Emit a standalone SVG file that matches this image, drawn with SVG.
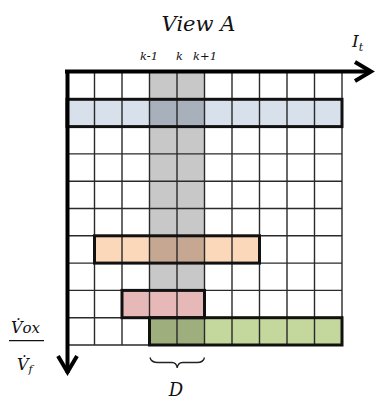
<svg xmlns="http://www.w3.org/2000/svg" width="375" height="402" viewBox="0 0 375 402">
<style>
.t{font-family:'DejaVu Serif','Liberation Serif',serif;font-style:italic;fill:#111}
.g{stroke:#2a2a2a;stroke-width:1.4;fill:none}
.hb{stroke:#111;stroke-width:3;fill:none}
.ax{stroke:#000;stroke-width:4;fill:none;stroke-linecap:butt}
.ah{stroke:#000;stroke-width:4;fill:none;stroke-linejoin:miter}
</style>
<rect width="375" height="402" fill="#fff"/>
<g id="column-k">
<rect x="149.5" y="72" width="55" height="273" fill="#c8c8c8"/>
</g>
<g id="row-blue">
<rect x="67" y="99.3" width="275" height="27.3" fill="#d7e0eb"/>
<rect x="149.5" y="99.3" width="55" height="27.3" fill="#a8b0bc"/>
</g>
<g id="row-orange">
<rect x="94.5" y="235.8" width="165" height="27.3" fill="#fcd8bb"/>
<rect x="149.5" y="235.8" width="55" height="27.3" fill="#c6a892"/>
</g>
<g id="row-pink">
<rect x="122" y="290.4" width="82.5" height="27.3" fill="#e6b8b8"/>
</g>
<g id="row-green">
<rect x="149.5" y="317.7" width="192.5" height="27.3" fill="#c4d79c"/>
<rect x="149.5" y="317.7" width="55" height="27.3" fill="#9eae7d"/>
</g>
<g id="grid">
<path class="g" d="M94.5 72V345M122 72V345M149.5 72V345M177 72V345M204.5 72V345M232 72V345M259.5 72V345M287 72V345M314.5 72V345M342 72V345M67 99.3H342M67 126.6H342M67 153.9H342M67 181.2H342M67 208.5H342M67 235.8H342M67 263.1H342M67 290.4H342M67 317.7H342M67 345H342"/>
</g>
<g id="row-borders">
<rect class="hb" x="67" y="99.3" width="275" height="27.3"/>
<rect class="hb" x="94.5" y="235.8" width="165" height="27.3"/>
<rect class="hb" x="122" y="290.4" width="82.5" height="27.3"/>
<rect class="hb" x="149.5" y="317.7" width="192.5" height="27.3"/>
</g>
<g id="connectors">
<path class="ax" d="M65 71.5H371"/>
<path class="ah" d="M355 62L371 71.5L355 81"/>
<path class="ax" d="M67.5 70V373"/>
<path class="ah" d="M58 356L67.5 372L77 356"/>
<path d="M150 357.5Q151 362.5 158 362.5H172Q176.5 362.5 177.2 368Q178 362.5 182.5 362.5H197Q203.5 362.5 204.5 357.5" fill="none" stroke="#222" stroke-width="1.3"/>
</g>
<g id="labels">
<text class="t" x="198.5" y="30.5" font-size="21" text-anchor="middle">View A</text>
<text class="t" x="352" y="47" font-size="17">I<tspan font-size="11" dy="4">t</tspan></text>
<text class="t" x="149" y="60" font-size="11.5" text-anchor="middle">k-1</text>
<text class="t" x="179.5" y="60" font-size="11.5" text-anchor="middle">k</text>
<text class="t" x="205" y="60" font-size="11.5" text-anchor="middle">k+1</text>
<text class="t" x="11" y="333" font-size="16">V̇<tspan font-size="15">ox</tspan></text>
<path d="M9 340.7H44" stroke="#111" stroke-width="1.2"/>
<text class="t" x="17" y="370" font-size="16">V̇<tspan font-size="11" dy="3">f</tspan></text>
<text class="t" x="176" y="396" font-size="18" text-anchor="middle">D</text>
</g>
</svg>
